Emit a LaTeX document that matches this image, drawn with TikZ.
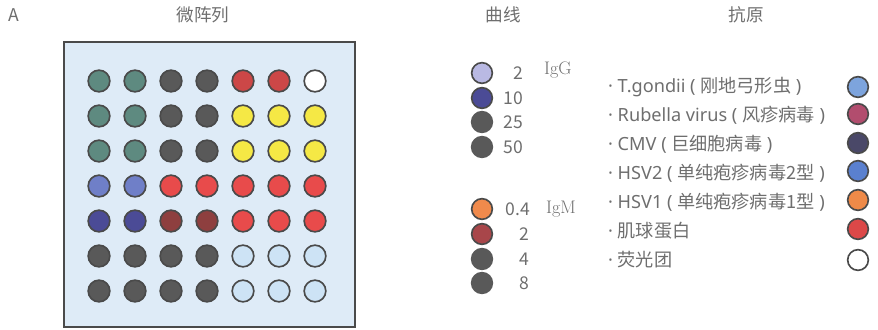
\documentclass[tikz,border=0pt]{standalone}
\usepackage{fontspec}
\newfontfamily\cjk{Noto Sans CJK SC}
\newfontfamily\latsans{Noto Sans}
\newcommand\lat[1]{{\latsans\fontsize{15.5}{17}\selectfont #1}}
\definecolor{rimgray}{HTML}{4A4A4A}
\definecolor{dkgray}{HTML}{595959}
\definecolor{txtgray}{HTML}{6E6E6E}
\definecolor{chipblue}{HTML}{DEEBF7}
\definecolor{tealgray}{HTML}{5E8A80}
\definecolor{darkred}{HTML}{CC4747}
\definecolor{brightred}{HTML}{E84B4B}
\definecolor{lemon}{HTML}{F5E845}
\definecolor{lavblue}{HTML}{6F7FC8}
\definecolor{navy}{HTML}{4B4B96}
\definecolor{maroon}{HTML}{8E3F3F}
\definecolor{paleblue}{HTML}{CDE3F5}
\definecolor{lilac}{HTML}{B9B9E3}
\definecolor{orangered}{HTML}{F08A4C}
\definecolor{brick}{HTML}{A8464A}
\definecolor{tgblue}{HTML}{7DA4DD}
\definecolor{rubella}{HTML}{B24D6E}
\definecolor{cmvnavy}{HTML}{4A4868}
\definecolor{hsvblue}{HTML}{5A80CF}
\definecolor{hsvorange}{HTML}{EF8A48}
\definecolor{myored}{HTML}{DC4848}

\begin{document}
\begin{tikzpicture}[
  x=0.03cm,y=-0.03cm,
  spot/.style={
    circle,
    draw=rimgray,
    line width=1.4pt,
    minimum size=0.65cm,
    inner sep=0pt
  },
  key/.style={spot,minimum size=0.62cm},
  head/.style={text=txtgray,font=\cjk\fontsize{15}{17}\selectfont},
  item/.style={anchor=west,text=txtgray,font=\cjk\fontsize{15.5}{17}\selectfont},
  conc/.style={anchor=east,text=txtgray,font=\cjk\fontsize{15}{17}\selectfont},
  iso/.style={anchor=west,text=txtgray,font=\fontsize{15.5}{17}\selectfont}
]
  \useasboundingbox (0,0) rectangle (878,329);

  % column heads
  \node[head] (panel) at (14,15) {A};
  \node[head] (chiphead) at (203,15) {微阵列};
  \node[head] (curvehead) at (503,15) {曲线};
  \node[head] (antihead) at (746,15) {抗原};

  % the microarray chip
  \draw[rimgray,line width=1.1pt,fill=chipblue] (64,42) rectangle (355,327);
  \foreach \cols [count=\r] in {
      {tealgray,tealgray,dkgray,dkgray,darkred,darkred,white},
      {tealgray,tealgray,dkgray,dkgray,lemon,lemon,lemon},
      {tealgray,tealgray,dkgray,dkgray,lemon,lemon,lemon},
      {lavblue,lavblue,brightred,brightred,brightred,brightred,brightred},
      {navy,navy,maroon,maroon,brightred,brightred,brightred},
      {dkgray,dkgray,dkgray,dkgray,paleblue,paleblue,paleblue},
      {dkgray,dkgray,dkgray,dkgray,paleblue,paleblue,paleblue}}
    \foreach \c [count=\k] in \cols
      \node[spot,fill=\c] (spot-\r-\k) at (63+36*\k,46+35*\r) {};

  % standard curve, IgG
  \node[key,fill=lilac] (g1) at (482,73) {};
  \node[key,fill=navy] (g2) at (482,98) {};
  \node[key,fill=dkgray,draw=dkgray] (g3) at (482,122) {};
  \node[key,fill=dkgray,draw=dkgray] (g4) at (482,147) {};
  \node[conc] (g1num) at (527,73) {2};
  \node[conc] (g2num) at (527,98) {10};
  \node[conc] (g3num) at (527,122) {25};
  \node[conc] (g4num) at (527,147) {50};
  \node[iso] (igg) at (540,70) {IgG};

  % standard curve, IgM
  \node[key,fill=orangered] (m1) at (482,209) {};
  \node[key,fill=brick] (m2) at (482,234) {};
  \node[key,fill=dkgray,draw=dkgray] (m3) at (482,259) {};
  \node[key,fill=dkgray,draw=dkgray] (m4) at (482,283) {};
  \node[conc] (m1num) at (534,209) {0.4};
  \node[conc] (m2num) at (533,234) {2};
  \node[conc] (m3num) at (533,259) {4};
  \node[conc] (m4num) at (533,283) {8};
  \node[iso] (igm) at (542,209) {IgM};

  % antigens
  \node[item] (tg) at (604,87) {\lat{· T.gondii ( }刚地弓形虫\lat{ )}};
  \node[item] (rv) at (604,115) {\lat{· Rubella virus ( }风疹病毒\lat{ )}};
  \node[item] (cmv) at (604,144) {\lat{· CMV ( }巨细胞病毒\lat{ )}};
  \node[item] (hsv2) at (604,173) {\lat{· HSV2 ( }单纯疱疹病毒2型\lat{ )}};
  \node[item] (hsv1) at (604,202) {\lat{· HSV1 ( }单纯疱疹病毒1型\lat{ )}};
  \node[item] (myo) at (604,231) {\lat{· }肌球蛋白};
  \node[item] (fluo) at (604,260) {\lat{· }荧光团};
  \node[key,fill=tgblue] (tgkey) at (858,87) {};
  \node[key,fill=rubella] (rvkey) at (858,114) {};
  \node[key,fill=cmvnavy] (cmvkey) at (858,143) {};
  \node[key,fill=hsvblue] (hsv2key) at (858,171) {};
  \node[key,fill=hsvorange] (hsv1key) at (858,200) {};
  \node[key,fill=myored] (myokey) at (858,229) {};
  \node[key,fill=white] (fluokey) at (858,260) {};
\end{tikzpicture}
\end{document}
